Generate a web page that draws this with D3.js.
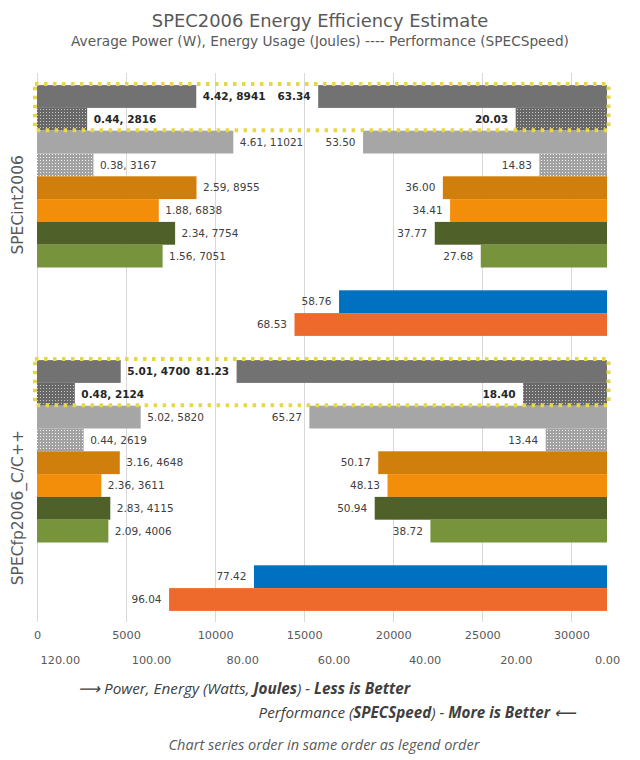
<!DOCTYPE html>
<html>
<head>
<meta charset="utf-8">
<script src="https://cdn.jsdelivr.net/npm/d3@7/dist/d3.min.js"></script>
<style>
  html, body { margin: 0; padding: 0; background: #ffffff; }
  svg { display: block; }
</style>
</head>
<body>
<script>
// ---------------- DATA ----------------
const categories = ["SPECint2006", "SPECfp2006_C/C++"];
const seriesKeys = ["greyAvg", "greyIdle", "lightGreyAvg", "lightGreyIdle", "darkOrange", "orange", "darkGreen", "green", "spacer", "blue", "redOrange"];
const seriesColors = ["#727272", "#6e6e6e", "#a6a6a6", "#a8a8a8", "#d17f0c", "#f28e0a", "#4f6129", "#77933c", "none", "#0070c0", "#ee6a2c"];

// Average power (W) per series (first 8 series)
const powerInt = [4.42, 0.44, 4.61, 0.38, 2.59, 1.88, 2.34, 1.56];
const powerFp  = [5.01, 0.48, 5.02, 0.44, 3.16, 2.36, 2.83, 2.09];
// Energy usage (Joules)
const energyInt = [8941, 2816, 11021, 3167, 8955, 6838, 7754, 7051];
const energyFp  = [4700, 2124, 5820, 2619, 4648, 3611, 4115, 4006];
// Performance (SPECSpeed) for series incl. blue & red-orange (spacer = null)
const perfInt = [63.34, 20.03, 53.50, 14.83, 36.00, 34.41, 37.77, 27.68, null, 58.76, 68.53];
const perfFp  = [81.23, 18.40, 65.27, 13.44, 50.17, 48.13, 50.94, 38.72, null, 77.42, 96.04];

const energyTicks = [0, 5000, 10000, 15000, 20000, 25000, 30000];
const perfTicks = [120, 100, 80, 60, 40, 20, 0];

const powerByCat = [powerInt, powerFp];
const energyByCat = [energyInt, energyFp];
const perfByCat = [perfInt, perfFp];

// ---------------- CHART ----------------
const W = 640, H = 760;
const plotTop = 73, plotBottom = 622, plotLeft = 37, plotRight = 607;

const svg = d3.select("body").append("svg").attr("width", W).attr("height", H);

// patterns for the dotted (idle) series
const defs = svg.append("defs");
function dotPattern(id, base, dot) {
  const p = defs.append("pattern").attr("id", id).attr("patternUnits", "userSpaceOnUse")
    .attr("width", 3).attr("height", 3);
  p.append("rect").attr("width", 3).attr("height", 3).attr("fill", base);
  p.append("rect").attr("x", 1).attr("y", 1).attr("width", 1).attr("height", 1).attr("fill", dot);
}
dotPattern("dotDark", "#686868", "#c8c8c8");
dotPattern("dotLight", "#a2a2a2", "#f2f2f2");
const fills = seriesColors.slice();
fills[1] = "url(#dotDark)";
fills[3] = "url(#dotLight)";

const x = d3.scaleLinear().domain([0, 32000]).range([plotLeft, plotRight]);
const xp = d3.scaleLinear().domain([0, 125]).range([plotRight, plotLeft]);

const y0 = d3.scaleBand().domain(categories).range([plotTop, plotBottom + 1])
  .paddingInner(0.088).paddingOuter(0.044);
const y1 = d3.scaleBand().domain(seriesKeys).range([0, y0.bandwidth()]);

const sansFont = "'DejaVu Sans', Verdana, sans-serif";

// gridlines
svg.append("g").selectAll("line").data(energyTicks).join("line")
  .attr("x1", d => Math.round(x(d)) + 0.5).attr("x2", d => Math.round(x(d)) + 0.5)
  .attr("y1", plotTop).attr("y2", plotBottom)
  .attr("stroke", "#d9d9d9").attr("stroke-width", 1);

// Title
svg.append("text").attr("x", 320).attr("y", 27).attr("text-anchor", "middle")
  .attr("font-family", sansFont).attr("font-size", 17.9).attr("fill", "#595959")
  .text("SPEC2006 Energy Efficiency Estimate");
svg.append("text").attr("x", 320).attr("y", 45.5).attr("text-anchor", "middle")
  .attr("font-family", sansFont).attr("font-size", 13.7).attr("fill", "#595959")
  .text("Average Power (W), Energy Usage (Joules) ---- Performance (SPECSpeed)");

// Build row data
const energyRows = [], perfRows = [];
categories.forEach((c, ci) => {
  energyByCat[ci].forEach((e, i) => {
    energyRows.push({cat: c, key: seriesKeys[i], idx: i, energy: e, power: powerByCat[ci][i]});
  });
  perfByCat[ci].forEach((p, i) => {
    if (p !== null) perfRows.push({cat: c, key: seriesKeys[i], idx: i, perf: p});
  });
});

const rowY = d => y0(d.cat) + y1(d.key);
const bh = y1.bandwidth();

// energy bars (from left)
svg.append("g").selectAll("rect").data(energyRows).join("rect")
  .attr("x", x(0)).attr("y", rowY)
  .attr("width", d => x(d.energy) - x(0)).attr("height", bh)
  .attr("fill", d => fills[d.idx]);

// performance bars (from right)
svg.append("g").selectAll("rect").data(perfRows).join("rect")
  .attr("x", d => xp(d.perf)).attr("y", rowY)
  .attr("width", d => xp(0) - xp(d.perf)).attr("height", bh)
  .attr("fill", d => fills[d.idx]);

// energy labels
svg.append("g").selectAll("text").data(energyRows).join("text")
  .attr("x", d => x(d.energy) + 6.5).attr("y", d => rowY(d) + bh / 2)
  .attr("dy", "0.36em")
  .attr("font-family", sansFont).attr("font-size", 10.5)
  .attr("font-weight", d => d.idx < 2 ? "bold" : "normal")
  .attr("fill", d => d.idx < 2 ? "#262626" : "#404040")
  .text(d => d.power.toFixed(2) + ", " + d.energy);

// perf labels
svg.append("g").selectAll("text").data(perfRows).join("text")
  .attr("x", d => xp(d.perf) - 7.5).attr("y", d => rowY(d) + bh / 2)
  .attr("dy", "0.36em").attr("text-anchor", "end")
  .attr("font-family", sansFont).attr("font-size", 10.5)
  .attr("font-weight", d => d.idx < 2 ? "bold" : "normal")
  .attr("fill", d => d.idx < 2 ? "#262626" : "#404040")
  .text(d => d.perf.toFixed(2));

// highlight boxes around the first two series
svg.append("g").selectAll("rect").data(categories).join("rect")
  .attr("x", x(0) - 2).attr("y", c => y0(c) + y1(seriesKeys[0]) - 1)
  .attr("width", xp(0) - x(0) + 3.5)
  .attr("height", 2 * bh + 0.5)
  .attr("fill", "none").attr("stroke", "#e6d64a").attr("stroke-width", 4)
  .attr("stroke-dasharray", "3.5 5.5");

// category labels (rotated)
svg.append("g").selectAll("text").data(categories).join("text")
  .attr("transform", c => `translate(23, ${y0(c) + 70}) rotate(-90)`)
  .attr("text-anchor", "end")
  .attr("font-family", sansFont).attr("font-size", 15.5).attr("fill", "#595959")
  .text(c => c);

// axes
const axE = svg.append("g").attr("transform", `translate(0, ${plotBottom + 3})`)
  .call(d3.axisBottom(x).tickValues(energyTicks).tickSize(0).tickPadding(6).tickFormat(d3.format("d")));
const axP = svg.append("g").attr("transform", `translate(0, ${plotBottom + 28})`)
  .call(d3.axisBottom(xp).tickValues(perfTicks).tickSize(0).tickPadding(6).tickFormat(d3.format(".2f")));
[axE, axP].forEach(a => {
  a.select(".domain").remove();
  a.selectAll("text").attr("font-family", sansFont).attr("font-size", 11.3).attr("fill", "#595959");
});

// footer notes
const footFont = "'Open Sans', 'Noto Sans', sans-serif";
const f1 = svg.append("text").attr("x", 78).attr("y", 694)
  .attr("font-family", footFont).attr("font-size", 15.3).attr("font-style", "italic").attr("fill", "#404040");
f1.append("tspan").text("\u27F6 Power, Energy (Watts, ");
f1.append("tspan").attr("font-weight", "bold").text("Joules");
f1.append("tspan").text(") - ");
f1.append("tspan").attr("font-weight", "bold").text("Less is Better");

const f2 = svg.append("text").attr("x", 576).attr("y", 718).attr("text-anchor", "end")
  .attr("font-family", footFont).attr("font-size", 15.2).attr("font-style", "italic").attr("fill", "#404040");
f2.append("tspan").text("Performance (");
f2.append("tspan").attr("font-weight", "bold").text("SPECSpeed");
f2.append("tspan").text(") - ");
f2.append("tspan").attr("font-weight", "bold").text("More is Better");
f2.append("tspan").text(" \u27F5");

svg.append("text").attr("x", 324).attr("y", 750).attr("text-anchor", "middle")
  .attr("font-family", footFont).attr("font-size", 14.5).attr("font-style", "italic").attr("fill", "#595959")
  .text("Chart series order in same order as legend order");
</script>
</body>
</html>
